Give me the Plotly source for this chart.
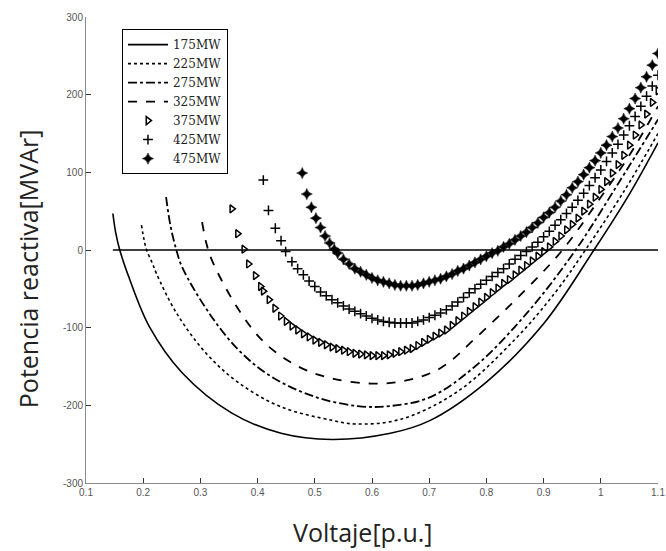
import plotly.graph_objects as go

# ---------------- data ----------------
V_175 = [0.147, 0.152, 0.159, 0.176, 0.211, 0.268, 0.355, 0.441, 0.53, 0.632, 0.70, 0.80, 0.90, 0.988, 1.05, 1.10]
Q_175 = [47, 22, 0, -37, -99, -158, -210, -236, -244, -236, -220, -170, -95, 0, 72, 138]

V_225 = [0.197, 0.201, 0.206, 0.216, 0.223, 0.258, 0.31, 0.367, 0.441, 0.528, 0.57, 0.65, 0.75, 0.85, 0.92, 0.973, 1.04, 1.10]
Q_225 = [32, 15, 0, -17, -30, -81, -133, -171, -202, -219, -224, -218, -182, -115, -55, 0, 75, 150]

V_275 = [0.240, 0.248, 0.258, 0.268, 0.315, 0.367, 0.424, 0.50, 0.575, 0.63, 0.70, 0.78, 0.87, 0.956, 1.03, 1.10]
Q_275 = [68, 30, 0, -22, -81, -129, -163, -189, -201, -201, -190, -150, -82, 0, 85, 168]

V_325 = [0.303, 0.310, 0.320, 0.367, 0.413, 0.471, 0.528, 0.60, 0.66, 0.72, 0.783, 0.87, 0.933, 1.0, 1.05, 1.10]
Q_325 = [36, 10, -13, -77, -120, -150, -165, -172, -168, -152, -112, -50, 0, 68, 122, 185]

V_375 = [0.355, 0.365, 0.376, 0.384, 0.396, 0.405,
         0.41, 0.42, 0.43, 0.44, 0.45, 0.46, 0.47, 0.48, 0.49, 0.50,
         0.51, 0.52, 0.53, 0.54, 0.55, 0.56, 0.57, 0.58, 0.59, 0.60,
         0.61, 0.62, 0.63, 0.64, 0.65, 0.66, 0.67, 0.68, 0.69, 0.70,
         0.71, 0.72, 0.73, 0.74, 0.75, 0.76, 0.77, 0.78, 0.79, 0.80,
         0.81, 0.82, 0.83, 0.84, 0.85, 0.86, 0.87, 0.88, 0.89, 0.90,
         0.91, 0.92, 0.93, 0.94, 0.95, 0.96, 0.97, 0.98, 0.99, 1.00,
         1.01, 1.02, 1.03, 1.04, 1.05, 1.06, 1.07, 1.08, 1.09, 1.10]
Q_375 = [53, 21, 1, -18, -33, -47,
         -53, -64, -75, -85, -92, -98, -103, -108, -112, -116,
         -119, -122, -125, -127, -129, -131, -133, -134, -135, -136,
         -136, -136, -135, -133, -131, -129, -127, -123, -119, -115,
         -111, -107, -103, -97, -91, -85, -79, -73, -67, -61,
         -55, -49, -43, -38, -32, -26, -20, -14, -8, -2,
         4, 11, 18, 26, 33, 41, 50, 59, 68, 78,
         88, 99, 110, 122, 135, 148, 161, 175, 190, 205]

V_425 = [0.410, 0.419, 0.431, 0.441, 0.449,
         0.46, 0.47, 0.48, 0.49, 0.50,
         0.51, 0.52, 0.53, 0.54, 0.55, 0.56, 0.57, 0.58, 0.59, 0.60,
         0.61, 0.62, 0.63, 0.64, 0.65, 0.66, 0.67, 0.68, 0.69, 0.70,
         0.71, 0.72, 0.73, 0.74, 0.75, 0.76, 0.77, 0.78, 0.79, 0.80,
         0.81, 0.82, 0.83, 0.84, 0.85, 0.86, 0.87, 0.88, 0.89, 0.90,
         0.91, 0.92, 0.93, 0.94, 0.95, 0.96, 0.97, 0.98, 0.99, 1.00,
         1.01, 1.02, 1.03, 1.04, 1.05, 1.06, 1.07, 1.08, 1.09, 1.10]
Q_425 = [90, 51, 28, 12, -2,
         -15, -24, -32, -40, -47,
         -54, -59, -64, -68, -72, -76, -79, -82, -85, -88,
         -90, -92, -93, -94, -94, -94, -94, -92, -90, -87,
         -84, -81, -77, -72, -67, -61, -55, -50, -44, -39,
         -34, -29, -24, -18, -12, -7, -2, 4, 10, 17,
         24, 32, 39, 47, 55, 64, 73, 83, 93, 103,
         114, 125, 136, 148, 160, 172, 185, 198, 211, 225]

V_475 = [0.478, 0.486, 0.494, 0.502, 0.510, 0.518, 0.526, 0.534,
         0.54, 0.55, 0.56, 0.57, 0.58, 0.59, 0.60,
         0.61, 0.62, 0.63, 0.64, 0.65, 0.66, 0.67, 0.68, 0.69, 0.70,
         0.71, 0.72, 0.73, 0.74, 0.75, 0.76, 0.77, 0.78, 0.79, 0.80,
         0.81, 0.82, 0.83, 0.84, 0.85, 0.86, 0.87, 0.88, 0.89, 0.90,
         0.91, 0.92, 0.93, 0.94, 0.95, 0.96, 0.97, 0.98, 0.99, 1.00,
         1.01, 1.02, 1.03, 1.04, 1.05, 1.06, 1.07, 1.08, 1.09, 1.10]
Q_475 = [99, 72, 55, 41, 29, 18, 9, 1,
         -4, -12, -18, -24, -28, -32, -36,
         -39, -41, -43, -45, -46, -46, -46, -45, -43, -41,
         -39, -37, -34, -31, -27, -24, -20, -16, -12, -8,
         -4, -1, 4, 8, 13, 18, 23, 29, 35, 42,
         48, 55, 63, 71, 80, 88, 97, 106, 115, 125,
         135, 146, 157, 169, 182, 195, 209, 223, 238, 253]

ZERO_V = [0.147, 1.10]
ZERO_Q = [0, 0]

X_TICKS = [0.1, 0.2, 0.3, 0.4, 0.5, 0.6, 0.7, 0.8, 0.9, 1.0, 1.1]
X_TICK_LABELS = ["0.1", "0.2", "0.3", "0.4", "0.5", "0.6", "0.7", "0.8", "0.9", "1", "1.1"]
Y_TICKS = [300, 200, 100, 0, -100, -200, -300]
Y_TICK_LABELS = ["300", "200", "100", "0", "-100", "-200", "-300"]

# ---------------- figure ----------------
fig = go.Figure()

fig.add_trace(go.Scatter(x=ZERO_V, y=ZERO_Q, mode="lines", showlegend=False,
                         line=dict(color="black", width=1.5), hoverinfo="skip"))

line_series = [
    ("175MW", V_175, Q_175, "solid", 1.6),
    ("225MW", V_225, Q_225, "dot", 1.6),
    ("275MW", V_275, Q_275, "dashdot", 1.8),
    ("325MW", V_325, Q_325, "dash", 1.8),
]
for name, vx, qy, dash, w in line_series:
    fig.add_trace(go.Scatter(x=vx, y=qy, mode="lines", name=name,
                             line=dict(color="black", width=w, dash=dash,
                                       shape="spline", smoothing=1.0)))

fig.add_trace(go.Scatter(x=V_375, y=Q_375, mode="markers", name="375MW",
                         marker=dict(symbol="triangle-right-open", size=7, color="black",
                                     line=dict(width=1.5, color="black"))))
fig.add_trace(go.Scatter(x=V_425, y=Q_425, mode="markers", name="425MW",
                         marker=dict(symbol="cross-thin-open", size=7, color="black",
                                     line=dict(width=1.5, color="black"))))
fig.add_trace(go.Scatter(x=V_475, y=Q_475, mode="markers", name="475MW",
                         marker=dict(symbol="star-diamond", size=8, color="black",
                                     line=dict(width=0.5, color="black"))))

axis_common = dict(
    showgrid=False, zeroline=False, showline=True, linecolor="#8a8a8a", linewidth=1,
    ticks="inside", ticklen=5, tickwidth=1, tickcolor="#333333",
    tickfont=dict(family="Liberation Sans, Arial, sans-serif", size=10, color="#555555"),
    mirror=False, automargin=False,
)

fig.update_layout(
    width=666, height=551,
    margin=dict(l=86, r=8, t=17, b=68),
    paper_bgcolor="white", plot_bgcolor="white",
    xaxis=dict(range=[0.1, 1.1], tickmode="array", tickvals=X_TICKS,
               ticktext=X_TICK_LABELS, ticklabeloverflow="allow", **axis_common),
    yaxis=dict(range=[-300, 300], tickmode="array", tickvals=Y_TICKS,
               ticktext=Y_TICK_LABELS, **axis_common),
    legend=dict(x=0.0629, y=0.974, xanchor="left", yanchor="top",
                bgcolor="white", bordercolor="black", borderwidth=1,
                font=dict(family="DejaVu Serif, Liberation Serif, serif", size=12, color="#222222"),
                tracegroupgap=0, itemwidth=40),
    showlegend=True,
    annotations=[
        dict(text="Voltaje[p.u.]", xref="paper", yref="paper", x=0.484, y=-0.105,
             xanchor="center", yanchor="middle", showarrow=False,
             font=dict(family="Open Sans, Noto Sans, sans-serif", size=25, color="#222222")),
        dict(text="Potencia reactiva[MVAr]", xref="paper", yref="paper", x=-0.1014, y=0.461,
             xanchor="center", yanchor="middle", showarrow=False, textangle=-90,
             font=dict(family="Open Sans, Noto Sans, sans-serif", size=25, color="#222222")),
    ],
)

fig.write_html("out.html", config={"displayModeBar": False},
               post_script="document.body.style.margin='0';document.body.style.overflow='hidden';")
